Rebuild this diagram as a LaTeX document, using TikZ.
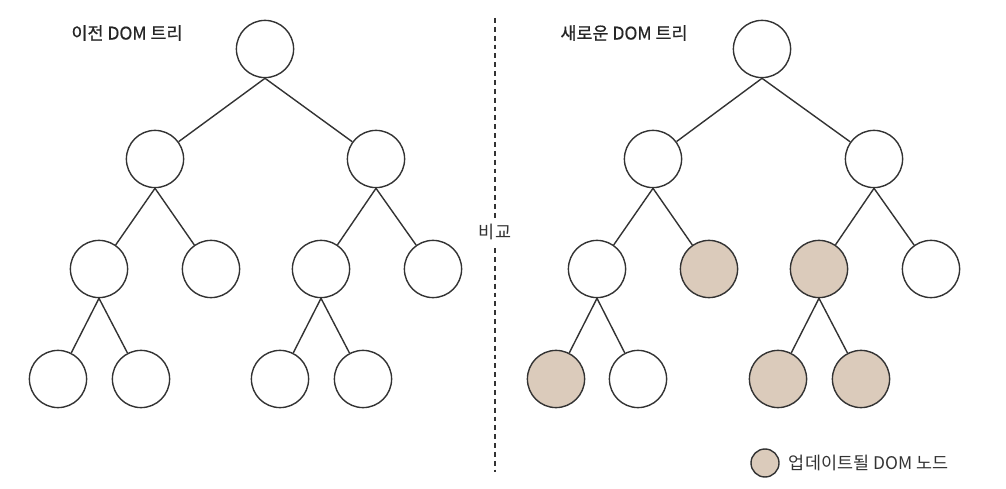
\documentclass[tikz,border=0pt]{standalone}
\usepackage{fontspec}
\setmainfont{Noto Sans CJK KR}[BoldFont={Noto Sans CJK KR}, BoldFeatures={FakeBold=0.6}]
\definecolor{updfill}{HTML}{DBCBBB}
\definecolor{linegray}{HTML}{333333}
\tikzset{
  dom/.style={circle, draw=linegray, line width=1pt, minimum size=1.43cm, inner sep=0pt},
  upd/.style={dom, fill=updfill},
  edge/.style={draw=linegray, line width=1pt},
  title/.style={font=\fontsize{12.4}{15}\selectfont\bfseries, text=black!85},
  label/.style={font=\fontsize{12.4}{15}\selectfont, text=black!80}
}
\begin{document}
\begin{tikzpicture}[x=0.25cm, y=0.25cm]
    \useasboundingbox (0,0) rectangle (100.6,-48.9);

    % old DOM tree
    \node[title] (oldtitle) at (12.7,-3.3) {이전 DOM 트리};
    \node[dom] (lr) at (26.5,-4.9) {};
    \node[dom] (la) at (15.5,-15.9) {};
    \node[dom] (lb) at (37.6,-15.9) {};
    \node[dom] (lc) at (9.9,-26.9) {};
    \node[dom] (ld) at (21.1,-26.9) {};
    \node[dom] (le) at (32.1,-26.9) {};
    \node[dom] (lf) at (43.3,-26.9) {};
    \node[dom] (lg) at (5.8,-37.9) {};
    \node[dom] (lh) at (14.1,-37.9) {};
    \node[dom] (li) at (28.0,-37.9) {};
    \node[dom] (lj) at (36.3,-37.9) {};
    \draw[edge] (lr.south) -- (la) (lr.south) -- (lb);
    \draw[edge] (la.south) -- (lc) (la.south) -- (ld);
    \draw[edge] (lb.south) -- (le) (lb.south) -- (lf);
    \draw[edge] (lc.south) -- (lg) (lc.south) -- (lh);
    \draw[edge] (le.south) -- (li) (le.south) -- (lj);

    % compare
    \coordinate (dtop) at (49.5,-1.8);
    \coordinate (dbot) at (49.5,-47.2);
    \draw[linegray, line width=0.8pt, dash pattern=on 3.5pt off 2.8pt] (dtop) -- (dbot);
    \node[label, fill=white, inner sep=3pt] (cmp) at (49.5,-23.2) {비교};

    % new DOM tree
    \node[title] (newtitle) at (62.4,-3.3) {새로운 DOM 트리};
    \node[dom] (rr) at (76.2,-4.9) {};
    \node[dom] (ra) at (65.3,-15.9) {};
    \node[dom] (rb) at (87.4,-15.9) {};
    \node[dom] (rc) at (59.7,-26.9) {};
    \node[upd] (rd) at (70.9,-26.9) {};
    \node[upd] (re) at (81.9,-26.9) {};
    \node[dom] (rf) at (93.1,-26.9) {};
    \node[upd] (rg) at (55.6,-37.9) {};
    \node[dom] (rh) at (63.8,-37.9) {};
    \node[upd] (ri) at (77.8,-37.9) {};
    \node[upd] (rj) at (86.1,-37.9) {};
    \draw[edge] (rr.south) -- (ra) (rr.south) -- (rb);
    \draw[edge] (ra.south) -- (rc) (ra.south) -- (rd);
    \draw[edge] (rb.south) -- (re) (rb.south) -- (rf);
    \draw[edge] (rc.south) -- (rg) (rc.south) -- (rh);
    \draw[edge] (re.south) -- (ri) (re.south) -- (rj);

    % legend
    \node[upd, minimum size=0.7cm] (key) at (76.5,-46.3) {};
    \node[label, anchor=west] (keytext) at (78.4,-46.3) {업데이트될 DOM 노드};
\end{tikzpicture}
\end{document}
